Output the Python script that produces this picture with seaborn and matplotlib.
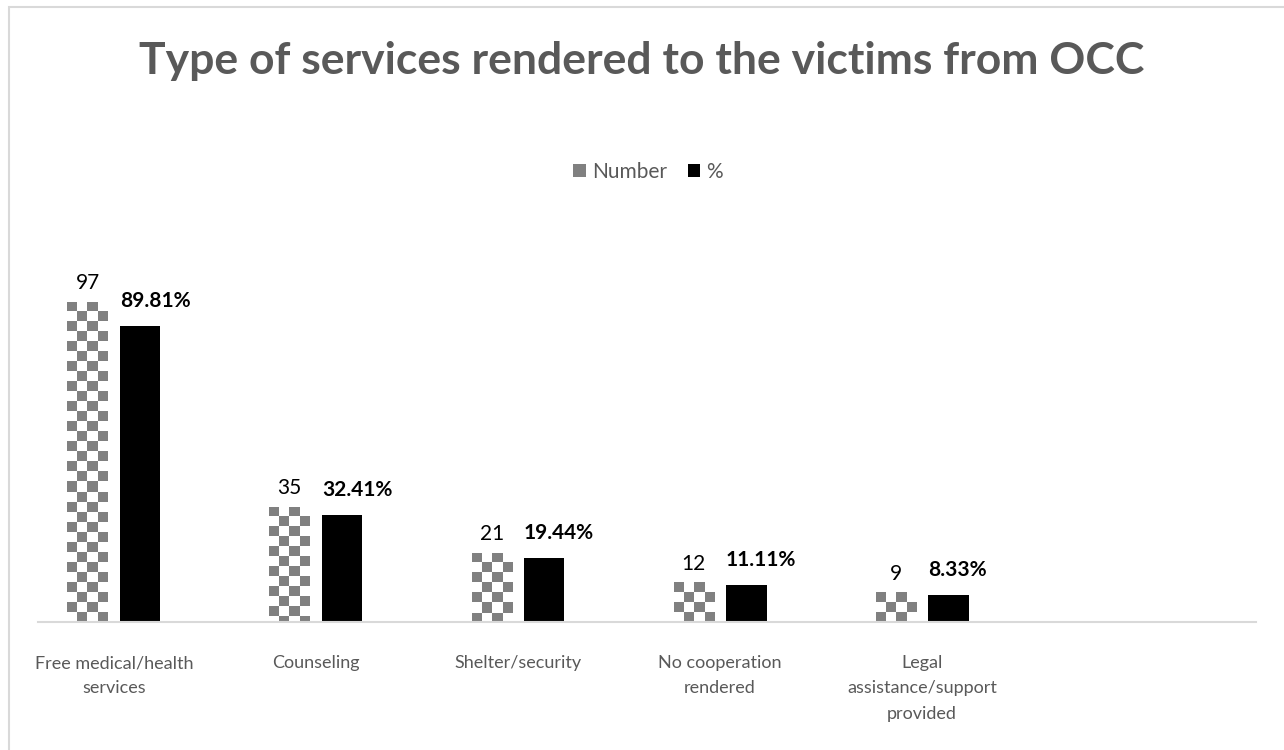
import numpy as np
import pandas as pd
import matplotlib
matplotlib.use("Agg")
import matplotlib.pyplot as plt
from matplotlib.patches import Patch, Rectangle
import seaborn as sns

# Services rendered and the count / share of victims receiving each
categories = [
    "Free medical/health services",
    "Counseling",
    "Shelter/security",
    "No cooperation rendered",
    "Legal assistance/support provided",
]
tick_labels = [
    "Free medical/health\nservices",
    "Counseling",
    "Shelter/security",
    "No cooperation\nrendered",
    "Legal\nassistance/support\nprovided",
]
number_values = [97, 35, 21, 12, 9]
percent_values = [89.81, 32.41, 19.44, 11.11, 8.33]
series_names = ["Number", "%"]

TEXT_GRAY = "#595959"
CHECK_GRAY = "#808080"
LINE_GRAY = "#D9D9D9"

sns.set_theme(style="white")
plt.rcParams["font.family"] = ["Lato", "DejaVu Sans"]

W, H = 1284, 750
fig = plt.figure(figsize=(W / 100, H / 100), dpi=100)
fig.patch.set_facecolor("white")
ax = fig.add_axes([38 / W, 1 - 622 / H, (1256 - 38) / W, (622 - 226) / H])

df = pd.DataFrame({
    "Service": categories * 2,
    "Series": [series_names[0]] * len(categories) + [series_names[1]] * len(categories),
    "Value": number_values + percent_values,
})

sns.barplot(
    data=df, x="Service", y="Value", hue="Series",
    order=categories, hue_order=series_names,
    palette={"Number": "white", "%": "black"},
    width=0.52, gap=0.23, errorbar=None, legend=False,
    linewidth=0, ax=ax,
)

ax.set_xlim(-0.376, 5.653)
ax.set_ylim(0, 120)

# Checkerboard fill for the "Number" bars, clipped to each bar
fig.canvas.draw()
px_per_x = ax.transData.transform((1, 0))[0] - ax.transData.transform((0, 0))[0]
px_per_y = ax.transData.transform((0, 1))[1] - ax.transData.transform((0, 0))[1]
cell_px = 10.0
for bar in ax.containers[0]:
    x0 = bar.get_x()
    w = bar.get_width()
    top = bar.get_height()
    ncols = max(1, int(round(w * px_per_x / cell_px)))
    cell_h = cell_px / px_per_y
    nrows = int(np.ceil(top / cell_h)) + 1
    grid = (np.add.outer(np.arange(nrows), np.arange(ncols)) % 2 == 0)
    img = np.ones((nrows, ncols, 3))
    img[grid] = np.array(matplotlib.colors.to_rgb(CHECK_GRAY))
    im = ax.imshow(
        img, extent=(x0, x0 + w, top - nrows * cell_h, top),
        origin="upper", interpolation="nearest", aspect="auto",
        zorder=bar.get_zorder() + 0.1,
    )
    im.set_clip_path(bar)

ax.set_xlim(-0.376, 5.653)
ax.set_ylim(0, 120)

# Value labels
for bar, v in zip(ax.containers[0], number_values):
    ax.annotate(f"{v}", xy=(bar.get_x() + bar.get_width() / 2, v),
                xytext=(0, 13.5), textcoords="offset points",
                ha="center", va="center", fontsize=15, color="black")
for bar, v in zip(ax.containers[1], percent_values):
    ax.annotate(f"{v:.2f}%", xy=(bar.get_x(), v),
                xytext=(0, 18), textcoords="offset points",
                ha="left", va="center", fontsize=15, fontweight="bold", color="black")

# Axes styling
for side in ["top", "left", "right"]:
    ax.spines[side].set_visible(False)
ax.spines["bottom"].set_color(LINE_GRAY)
ax.spines["bottom"].set_linewidth(1.5)
ax.set_yticks([])
ax.set_xticks(range(len(categories)))
ax.set_xticklabels(tick_labels, color=TEXT_GRAY, fontsize=13, linespacing=1.7)
ax.tick_params(axis="x", length=0, pad=24)
ax.set_xlabel("")
ax.set_ylabel("")

# Title and legend
fig.text(642 / W, 1 - 61 / H, "Type of services rendered to the victims from OCC",
         ha="center", va="center", fontsize=32, fontweight="bold", color=TEXT_GRAY)

handles = [Patch(facecolor=CHECK_GRAY, edgecolor="none"),
           Patch(facecolor="black", edgecolor="none")]
fig.legend(handles, series_names, loc="center", bbox_to_anchor=(648 / W, 1 - 172 / H),
           ncol=2, frameon=False, fontsize=15, labelcolor=TEXT_GRAY,
           handlelength=0.6, handleheight=0.6, handletextpad=0.3, columnspacing=1.0)

# Chart frame
fig.patches.append(Rectangle((9 / W, -0.05), 1.5, 1 - 7 / H + 0.05, transform=fig.transFigure,
                             fill=False, edgecolor=LINE_GRAY, linewidth=1.5))

fig.savefig("out.png", dpi=100)
